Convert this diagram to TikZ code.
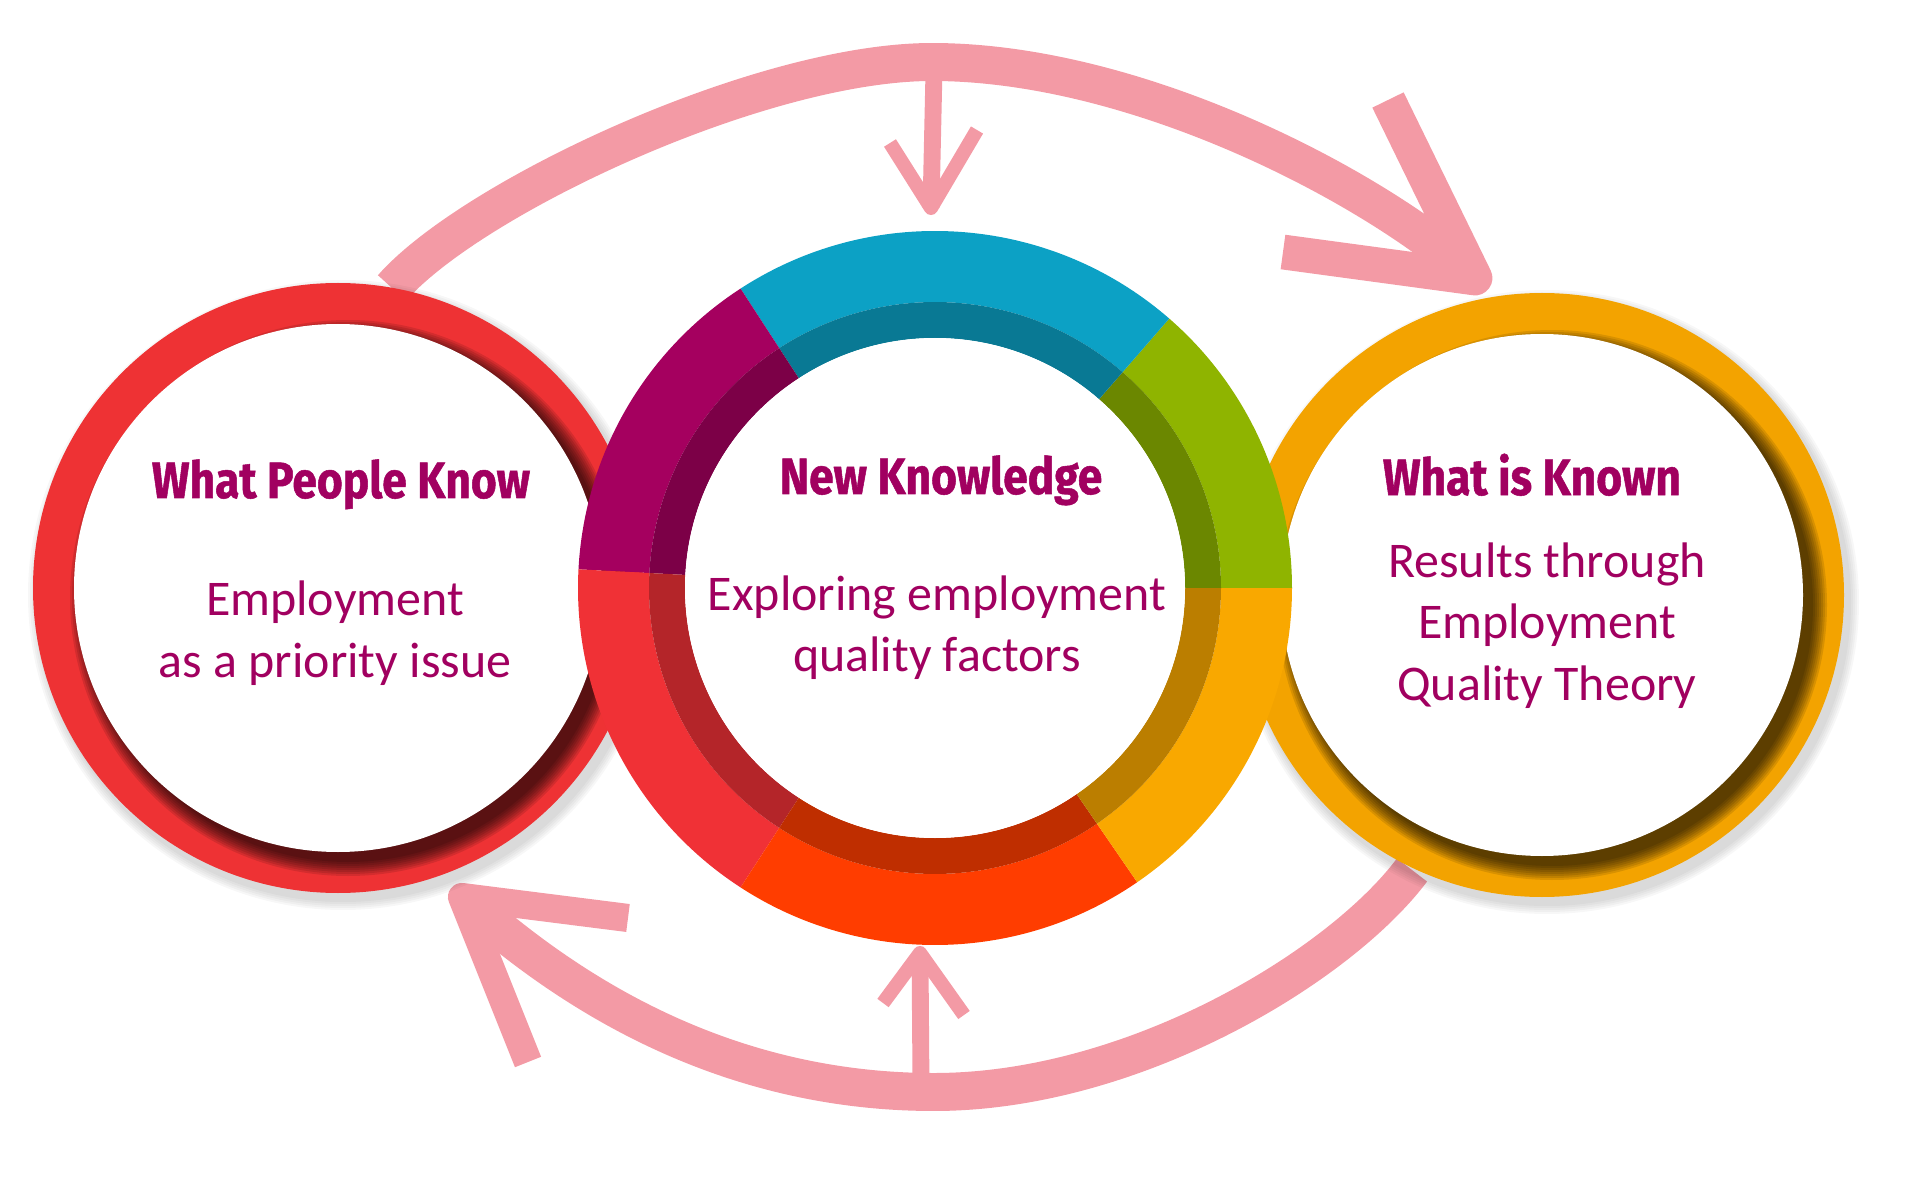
\documentclass[tikz,border=0pt]{standalone}
\usepackage{fontspec}
\setmainfont{Carlito}
\newfontfamily\headfont[FakeStretch=0.87, FakeBold=1]{Fira Sans}
\usetikzlibrary{calc}
\definecolor{loopink}{HTML}{F39AA5}
\definecolor{labelpurple}{HTML}{A10060}
\definecolor{segpurple}{HTML}{A5005F}
\definecolor{segcyan}{HTML}{0CA1C5}
\definecolor{seggreen}{HTML}{8FB400}
\definecolor{segorange}{HTML}{F9A800}
\definecolor{segflame}{HTML}{FF3D00}
\definecolor{segred}{HTML}{F03136}
\definecolor{knowred}{HTML}{EE3234}
\definecolor{knownorange}{HTML}{F3A300}
\tikzset{
  loop arc/.style={draw=loopink, line width=10.8pt},
  chevron/.style={draw=loopink, line width=#1, line join=round},
  stem/.style={draw=loopink, line width=4.8pt},
  barb/.style={draw=loopink, line width=4pt, line join=round},
  head/.style={font=\headfont\bfseries\fontsize{14.5}{17}\selectfont, text=labelpurple, inner sep=0pt},
  body/.style={font=\fontsize{14.2}{17.4}\selectfont, text=labelpurple, align=center, inner sep=0pt}
}
\begin{document}
\begin{tikzpicture}[x=0.01cm, y=-0.01cm]
\useasboundingbox (0,0) rectangle (1932,1185);

\coordinate (wpk) at (338,588);
\coordinate (nk) at (935,588);
\coordinate (wik) at (1542,595);

% loops
\coordinate (ts) at (392,288);
\coordinate (ta) at (932,62);
\coordinate (te) at (1464,268);
\coordinate (tv) at (1475,278);
\coordinate (tb1) at (1388,100);
\coordinate (tb2) at (1283,252);
\draw[loop arc] (ts) .. controls +(79,-90) and +(-172,0) .. (ta)
  .. controls +(200,0) and +(-103,-88) .. (te);
\draw[chevron=9.9pt] (tb1) -- (tv) -- (tb2);

\coordinate (bs) at (1412,870);
\coordinate (bb) at (934,1092);
\coordinate (be) at (472,906);
\coordinate (bv) at (462,897);
\coordinate (bb1) at (628,918);
\coordinate (bb2) at (528,1062);
\draw[loop arc] (bs) .. controls +(-72,96) and +(200,0) .. (bb)
  .. controls +(-220,0) and +(88,77) .. (be);
\draw[chevron=8pt] (bb1) -- (bv) -- (bb2);

\coordinate (tds) at (934,70);
\coordinate (tdt) at (931,208);
\coordinate (tdl) at (890,143);
\coordinate (tdr) at (977,130);
\draw[stem] (tds) -- (tdt);
\draw[barb] (tdl) -- (tdt) -- (tdr);

\coordinate (bus) at (921,1085);
\coordinate (but) at (920,953);
\coordinate (bul) at (883,1003);
\coordinate (bur) at (964,1015);
\draw[stem] (bus) -- (but);
\draw[barb] (bul) -- (but) -- (bur);

% side circles
\foreach \cen/\col/\ro/\ri in {wpk/knowred/305/264, wik/knownorange/302/261} {
  \foreach \k in {1,...,5}
    \fill[black, opacity=.03] ($(\cen)+(5,7)$) circle[radius=\ro+2*\k];
  \fill[\col] (\cen) circle[radius=\ro];
  \begin{scope}
    \clip (\cen) circle[radius=\ro];
    \foreach \k in {0,...,7}
      \fill[black, opacity=.11] ($(\cen)+(10,10)$) circle[radius=\ri+2*\k];
  \end{scope}
  \fill[white] (\cen) circle[radius=\ri];
}

% ring
\begin{scope}[shift={(nk)}, yscale=-1]
\foreach \col/\sa/\ea in {seggreen/0/49, segcyan/49/123, segpurple/123/177,
    segred/177/237, segflame/237/304.5, segorange/304.5/360} {
  \fill[\col] (\sa:357) arc[start angle=\sa, end angle=\ea, radius=357]
    -- (\ea:286) arc[start angle=\ea, end angle=\sa, radius=286] -- cycle;
  \fill[\col!75!black] (\sa:286) arc[start angle=\sa, end angle=\ea, radius=286]
    -- (\ea:250) arc[start angle=\ea, end angle=\sa, radius=250] -- cycle;
}
\fill[white] (0,0) circle[radius=250];
\end{scope}

\node[head, anchor=base] (wpkhead) at (341,498) {What People Know};
\node[body, anchor=base] (wpkbody) at (335,677) {Employment\\as a priority issue};
\node[head, anchor=base] (nkhead) at (941,494) {New Knowledge};
\node[body, anchor=base] (nkbody) at (937,672) {Exploring employment\\quality factors};
\node[head, anchor=base] (wikhead) at (1532,495) {What is Known};
\node[body, anchor=base] (wikbody) at (1547,700) {Results through\\Employment\\Quality Theory};
\end{tikzpicture}
\end{document}
